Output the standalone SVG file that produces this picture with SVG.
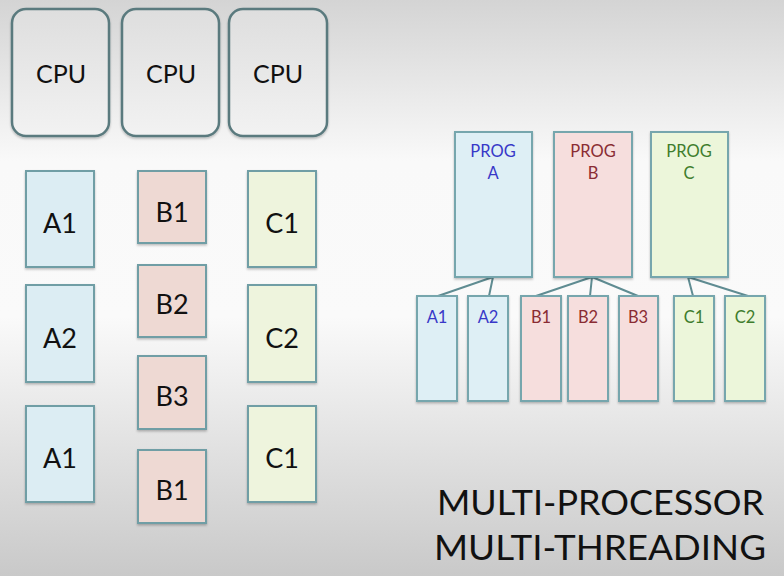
<svg xmlns="http://www.w3.org/2000/svg" width="784" height="576" viewBox="0 0 784 576">
<defs>
<linearGradient id="bg" x1="0" y1="0" x2="0" y2="1">
<stop offset="0" stop-color="#d4d4d4"/>
<stop offset="0.28" stop-color="#f9f9f9"/>
<stop offset="0.55" stop-color="#fafafa"/>
<stop offset="1" stop-color="#c9c9c9"/>
</linearGradient>
<linearGradient id="cpu" x1="0" y1="0" x2="0" y2="1">
<stop offset="0" stop-color="#dedede"/>
<stop offset="1" stop-color="#f2f2f2"/>
</linearGradient>
<filter id="sh" x="-10%" y="-10%" width="120%" height="120%">
<feDropShadow dx="0" dy="1.5" stdDeviation="1.2" flood-color="#000" flood-opacity="0.25"/>
</filter>
</defs>
<style>
text{font-family:Lato,"Open Sans","Liberation Sans",sans-serif;text-anchor:middle}
.cpu rect{fill:url(#cpu);stroke:#5a7a7e;stroke-width:2.5;filter:url(#sh)}
.cpu text{font-size:25px;fill:#111}
.t rect{stroke:#6f9ea5;stroke-width:2;filter:url(#sh)}
.t text{font-size:27px;fill:#111}
.a rect{fill:#dcedf3}
.b rect{fill:#eed9d3}
.c rect{fill:#eef4dd}
.p rect{stroke:#76a6ad;stroke-width:2;filter:url(#sh)}
.pa rect{fill:#deeff5}
.pb rect{fill:#f6dedd}
.pc rect{fill:#ecf6da}
.p text{font-size:16.5px}
.pa text{fill:#3838c8}
.pb text{fill:#8a2c33}
.pc text{fill:#3f7d2d}
.k{stroke:#5f8c92;stroke-width:2;fill:none}
.title{font-size:34px;fill:#111;text-anchor:end}
</style>
<rect width="784" height="576" fill="url(#bg)"/>

<g id="cpu1" class="cpu"><rect x="12" y="9" width="97" height="127" rx="14"/><text x="61" y="83">CPU</text></g>
<g id="cpu2" class="cpu"><rect x="122" y="9" width="97" height="127" rx="14"/><text x="171" y="83">CPU</text></g>
<g id="cpu3" class="cpu"><rect x="229" y="9" width="98" height="127" rx="14"/><text x="278" y="83">CPU</text></g>

<g id="la1" class="t a"><rect x="26" y="171" width="68" height="96"/><text x="60" y="233">A1</text></g>
<g id="la2" class="t a"><rect x="26" y="285" width="68" height="97"/><text x="60" y="348">A2</text></g>
<g id="la1b" class="t a"><rect x="26" y="406" width="68" height="96"/><text x="60" y="468">A1</text></g>

<g id="lb1" class="t b"><rect x="138" y="171" width="68" height="72"/><text x="172" y="222">B1</text></g>
<g id="lb2" class="t b"><rect x="138" y="265" width="68" height="72"/><text x="172" y="314">B2</text></g>
<g id="lb3" class="t b"><rect x="138" y="356" width="68" height="73"/><text x="172" y="406">B3</text></g>
<g id="lb1b" class="t b"><rect x="138" y="450" width="68" height="73"/><text x="172" y="500">B1</text></g>

<g id="lc1" class="t c"><rect x="248" y="171" width="68" height="96"/><text x="282" y="233">C1</text></g>
<g id="lc2" class="t c"><rect x="248" y="285" width="68" height="97"/><text x="282" y="348">C2</text></g>
<g id="lc1b" class="t c"><rect x="248" y="406" width="68" height="96"/><text x="282" y="468">C1</text></g>

<g id="connectors">
<path class="k" d="M493 277 L438 296 M493 277 L489 296"/>
<path class="k" d="M592 277 L536 296 M592 277 L590 296 M592 277 L638 296"/>
<path class="k" d="M688 277 L693 296 M688 277 L748 296"/>
</g>

<g id="proga" class="p pa"><rect x="455" y="132" width="77" height="145"/><text x="493" y="157">PROG</text><text x="493" y="179">A</text></g>
<g id="progb" class="p pb"><rect x="554" y="132" width="78" height="145"/><text x="593" y="157">PROG</text><text x="593" y="179">B</text></g>
<g id="progc" class="p pc"><rect x="651" y="132" width="77" height="145"/><text x="689" y="157">PROG</text><text x="689" y="179">C</text></g>

<g id="ra1" class="p pa"><rect x="417" y="296" width="40" height="105"/><text x="437" y="323">A1</text></g>
<g id="ra2" class="p pa"><rect x="468" y="296" width="40" height="105"/><text x="488" y="323">A2</text></g>
<g id="rb1" class="p pb"><rect x="521" y="296" width="40" height="105"/><text x="541" y="323">B1</text></g>
<g id="rb2" class="p pb"><rect x="568" y="296" width="40" height="105"/><text x="588" y="323">B2</text></g>
<g id="rb3" class="p pb"><rect x="619" y="296" width="39" height="105"/><text x="638" y="323">B3</text></g>
<g id="rc1" class="p pc"><rect x="674" y="296" width="40" height="105"/><text x="694" y="323">C1</text></g>
<g id="rc2" class="p pc"><rect x="725" y="296" width="40" height="105"/><text x="745" y="323">C2</text></g>

<g id="title">
<text class="title" x="764" y="515" textLength="327" lengthAdjust="spacingAndGlyphs">MULTI-PROCESSOR</text>
<text class="title" x="766" y="560" textLength="332" lengthAdjust="spacingAndGlyphs">MULTI-THREADING</text>
</g>
</svg>
